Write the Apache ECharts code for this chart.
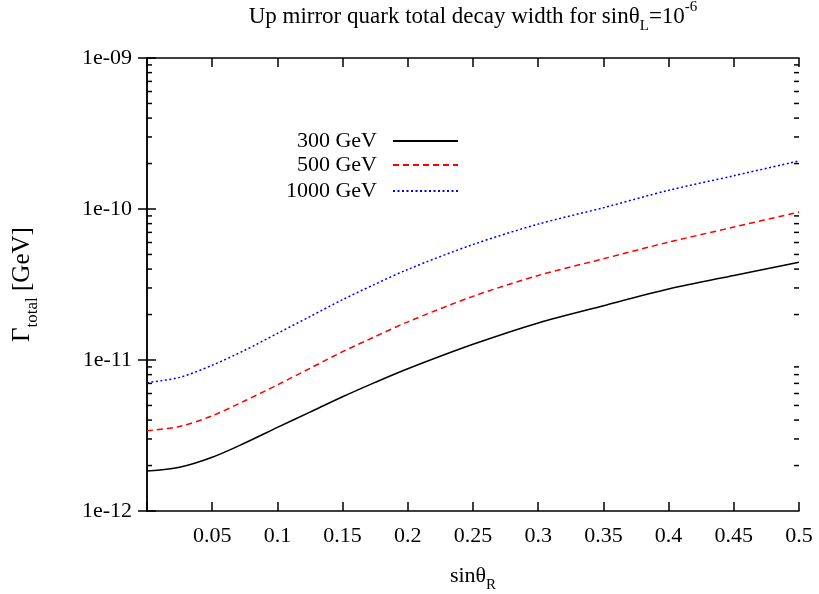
<!DOCTYPE html>
<html>
<head>
<meta charset="utf-8">
<script src="https://cdn.jsdelivr.net/npm/echarts@6/dist/echarts.min.js"></script>
<style>html,body{margin:0;padding:0;background:#fff;}#c{width:819px;height:594px;}</style>
</head>
<body>
<div id="c"></div>
<script>
// sin(theta_R) sample points
var xValues = [0, 0.025, 0.05, 0.075, 0.1, 0.125, 0.15, 0.175, 0.2, 0.25, 0.3, 0.35, 0.4, 0.45, 0.5];
// total decay width [GeV]
var gamma300 = [1.84e-12, 1.95e-12, 2.27e-12, 2.82e-12, 3.58e-12, 4.52e-12, 5.71e-12, 7.11e-12, 8.75e-12, 1.27e-11, 1.76e-11, 2.29e-11, 2.95e-11, 3.63e-11, 4.44e-11];
var gamma500 = [3.40e-12, 3.63e-12, 4.27e-12, 5.37e-12, 6.84e-12, 8.81e-12, 1.135e-11, 1.43e-11, 1.79e-11, 2.64e-11, 3.63e-11, 4.68e-11, 6.03e-11, 7.59e-11, 9.55e-11];
var gamma1000 = [7.08e-12, 7.67e-12, 9.23e-12, 1.16e-11, 1.50e-11, 1.94e-11, 2.51e-11, 3.18e-11, 3.98e-11, 5.82e-11, 7.94e-11, 1.02e-10, 1.33e-10, 1.66e-10, 2.08e-10];
var seriesNames = ['300 GeV', '500 GeV', '1000 GeV'];
var yTickValues = [1e-12, 1e-11, 1e-10, 1e-9];
var yTickLabels = ['1e-12', '1e-11', '1e-10', '1e-09'];
var xTickLabels = ['', '0.05', '0.1', '0.15', '0.2', '0.25', '0.3', '0.35', '0.4', '0.45', '0.5'];
var minorMultipliers = [2, 3, 4, 5, 6, 7, 8, 9];

var FONT = 'Liberation Serif';
var minorTicks = [];
for (var i = 0; i < yTickValues.length - 1; i++) {
  for (var j = 0; j < minorMultipliers.length; j++) {
    minorTicks.push([0, minorMultipliers[j] * yTickValues[i]]);
  }
}
function pairs(arr) { return xValues.map(function (x, k) { return [x, arr[k]]; }); }
function yLabel(v) {
  for (var k = 0; k < yTickValues.length; k++) {
    if (Math.abs(Math.log10(v) - Math.log10(yTickValues[k])) < 1e-6) return yTickLabels[k];
  }
  return '';
}
function xLabel(v) {
  var idx = Math.round(v / 0.05);
  return xTickLabels[idx] !== undefined ? xTickLabels[idx] : '';
}
var rich = {
  sub: { fontFamily: FONT, fontSize: 15, color: '#000', verticalAlign: 'bottom', lineHeight: 15 },
  sup: { fontFamily: FONT, fontSize: 15, color: '#000', verticalAlign: 'top', lineHeight: 15 }
};
var richY = {
  sub: { fontFamily: FONT, fontSize: 17, color: '#000', verticalAlign: 'bottom', lineHeight: 17 }
};
var axisLine = { show: true, lineStyle: { color: '#000', width: 1.5 } };
var chart = echarts.init(document.getElementById('c'), null, { renderer: 'canvas' });
function legendFor(name, top) {
  return {
    data: [name], orient: 'vertical', align: 'right', right: 360, top: top,
    itemWidth: 65, itemHeight: 14, padding: 0, selectedMode: false,
    itemStyle: { opacity: 0 },
    textStyle: { fontFamily: FONT, fontSize: 22, color: '#000', padding: [0, 11, 0, 0] }
  };
}
chart.setOption({
  animation: false,
  backgroundColor: '#fff',
  grid: { left: 147, right: 20, top: 58, bottom: 83, containLabel: false, outerBoundsMode: 'none' },
  legend: [legendFor(seriesNames[0], 130), legendFor(seriesNames[1], 154), legendFor(seriesNames[2], 180)],
  xAxis: [{
    type: 'value', position: 'bottom', min: 0, max: 0.5, interval: 0.05,
    axisLine: axisLine,
    axisTick: { show: true, inside: true, length: 9, lineStyle: { color: '#000', width: 1.5 } },
    axisLabel: { formatter: xLabel, fontFamily: FONT, fontSize: 22, color: '#000', margin: 14 },
    splitLine: { show: false },
    name: 'sinθ{sub|R}', nameLocation: 'middle', nameGap: 48,
    nameTextStyle: { fontFamily: FONT, fontSize: 22, color: '#000', lineHeight: 34, rich: rich }
  }, {
    type: 'value', position: 'top', min: 0, max: 0.5, interval: 0.05,
    axisLine: axisLine,
    axisTick: { show: true, inside: true, length: 9, lineStyle: { color: '#000', width: 1.5 } },
    axisLabel: { show: false }, splitLine: { show: false },
    name: 'Up mirror quark total decay width for sinθ{sub|L}=10{sup|-6}', nameLocation: 'middle', nameGap: 24,
    nameTextStyle: { fontFamily: FONT, fontSize: 23, color: '#000', lineHeight: 34, rich: rich }
  }],
  yAxis: [{
    type: 'log', logBase: 10, min: 1e-12, max: 1e-9, position: 'left',
    axisLine: axisLine,
    axisTick: { show: true, inside: true, length: 9, lineStyle: { color: '#000', width: 1.5 } },
    axisLabel: { formatter: yLabel, fontFamily: FONT, fontSize: 22, color: '#000', margin: 15 },
    splitLine: { show: false },
    name: 'Γ{sub|total} [GeV]', nameLocation: 'middle', nameGap: 106,
    nameTextStyle: { fontFamily: FONT, fontSize: 25, color: '#000', lineHeight: 38, rich: richY }
  }, {
    type: 'log', logBase: 10, min: 1e-12, max: 1e-9, position: 'right',
    axisLine: axisLine,
    axisTick: { show: true, inside: true, length: 9, lineStyle: { color: '#000', width: 1.5 } },
    axisLabel: { show: false }, splitLine: { show: false }
  }],
  series: [{
    name: seriesNames[0], type: 'line', data: pairs(gamma300), smooth: 0.3, symbol: 'none', showSymbol: false,
    lineStyle: { color: '#000000', width: 1.5, type: 'solid' }, itemStyle: { color: '#000000' }
  }, {
    name: seriesNames[1], type: 'line', data: pairs(gamma500), smooth: 0.3, symbol: 'none', showSymbol: false,
    lineStyle: { color: '#ff0000', width: 1.5, type: [6, 4] }, itemStyle: { color: '#ff0000' }
  }, {
    name: seriesNames[2], type: 'line', data: pairs(gamma1000), smooth: 0.3, symbol: 'none', showSymbol: false,
    lineStyle: { color: '#0000ff', width: 1.5, type: [2, 2.5] }, itemStyle: { color: '#0000ff' }
  }, {
    type: 'custom', name: 'minor', silent: true, data: minorTicks, encode: { x: 0, y: 1 },
    renderItem: function (params, api) {
      var v = api.value(1);
      var pl = api.coord([0, v]);
      var pr = api.coord([0.5, v]);
      return { type: 'group', children: [
        { type: 'line', shape: { x1: pl[0], y1: pl[1], x2: pl[0] + 5, y2: pl[1] }, style: { stroke: '#000', lineWidth: 1.5 } },
        { type: 'line', shape: { x1: pr[0], y1: pr[1], x2: pr[0] - 5, y2: pr[1] }, style: { stroke: '#000', lineWidth: 1.5 } }
      ] };
    }
  }]
});
</script>
</body>
</html>
